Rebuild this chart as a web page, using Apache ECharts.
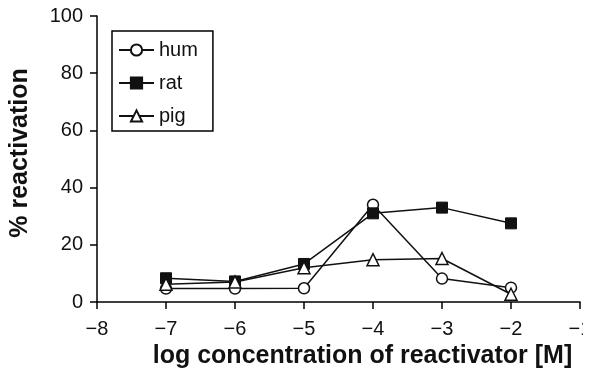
<!DOCTYPE html>
<html>
<head>
<meta charset="utf-8">
<script src="https://cdn.jsdelivr.net/npm/echarts@6/dist/echarts.min.js"></script>
<style>
  html, body { margin: 0; padding: 0; background: #fff; }
  #chart { width: 599px; height: 374px; }
</style>
</head>
<body>
<div id="chart"></div>
<script>
const logConc = [-7, -6, -5, -4, -3, -2]
const hum = [4.7, 4.7, 4.8, 34, 8.2, 5]
const rat = [8.3, 7.2, 13.3, 31, 33, 27.5]
const pig = [6.2, 7, 12, 14.8, 15.2, 2.7]

const pairs = ys => logConc.map((x, i) => [x, ys[i]])
const minus = v => String(v).replace('-', '\u2212')

const chart = echarts.init(document.getElementById('chart'))

const axisStyle = {
  axisLine: { lineStyle: { color: '#000', width: 1.5 } },
  axisTick: { lineStyle: { color: '#000', width: 1.5 }, length: 7 },
  splitLine: { show: false },
  axisLabel: { color: '#111', fontSize: 20, fontFamily: 'Liberation Sans' }
}
const titleStyle = { color: '#111', fontSize: 25, fontWeight: 'bold', fontFamily: 'Liberation Sans' }

chart.setOption({
  backgroundColor: '#fff',
  animation: false,
  grid: { left: 97, right: 19, top: 16, bottom: 72 },
  // the scanned figure is cropped just right of the last tick
  graphic: [{
    type: 'rect',
    right: 0,
    top: 0,
    z: 100,
    shape: { width: 16, height: 374 },
    style: { fill: '#fff' }
  }],
  legend: {
    orient: 'vertical',
    left: 112,
    top: 31,
    borderColor: '#000',
    borderWidth: 1.5,
    padding: [9, 15, 5, 6],
    itemGap: 13,
    itemWidth: 35,
    itemHeight: 14,
    textStyle: { color: '#111', fontSize: 20, fontFamily: 'Liberation Sans' },
    data: ['hum', 'rat', 'pig']
  },
  xAxis: {
    type: 'value',
    min: -8,
    max: -1,
    interval: 1,
    name: 'log concentration of reactivator [M]',
    nameLocation: 'middle',
    nameGap: 42,
    nameTextStyle: { ...titleStyle, padding: [0, 0, 0, 48] },
    ...axisStyle,
    axisLabel: { ...axisStyle.axisLabel, margin: 17, formatter: minus }
  },
  yAxis: {
    type: 'value',
    min: 0,
    max: 100,
    interval: 20,
    name: '% reactivation',
    nameLocation: 'middle',
    nameGap: 64,
    nameTextStyle: { ...titleStyle, padding: [0, 0, 0, 12] },
    ...axisStyle,
    axisLabel: { ...axisStyle.axisLabel, margin: 14 }
  },
  series: [
    {
      name: 'hum',
      type: 'line',
      data: pairs(hum),
      symbol: 'circle',
      symbolSize: 11,
      lineStyle: { color: '#111', width: 1.5 },
      itemStyle: { color: '#fff', borderColor: '#111', borderWidth: 1.5 }
    },
    {
      name: 'rat',
      type: 'line',
      data: pairs(rat),
      symbol: 'rect',
      symbolSize: 11,
      lineStyle: { color: '#111', width: 1.5 },
      itemStyle: { color: '#111', borderColor: '#111', borderWidth: 1 }
    },
    {
      name: 'pig',
      type: 'line',
      data: pairs(pig),
      symbol: 'triangle',
      symbolSize: 12,
      lineStyle: { color: '#111', width: 1.5 },
      itemStyle: { color: '#fff', borderColor: '#111', borderWidth: 1.5 }
    }
  ]
})
</script>
</body>
</html>
